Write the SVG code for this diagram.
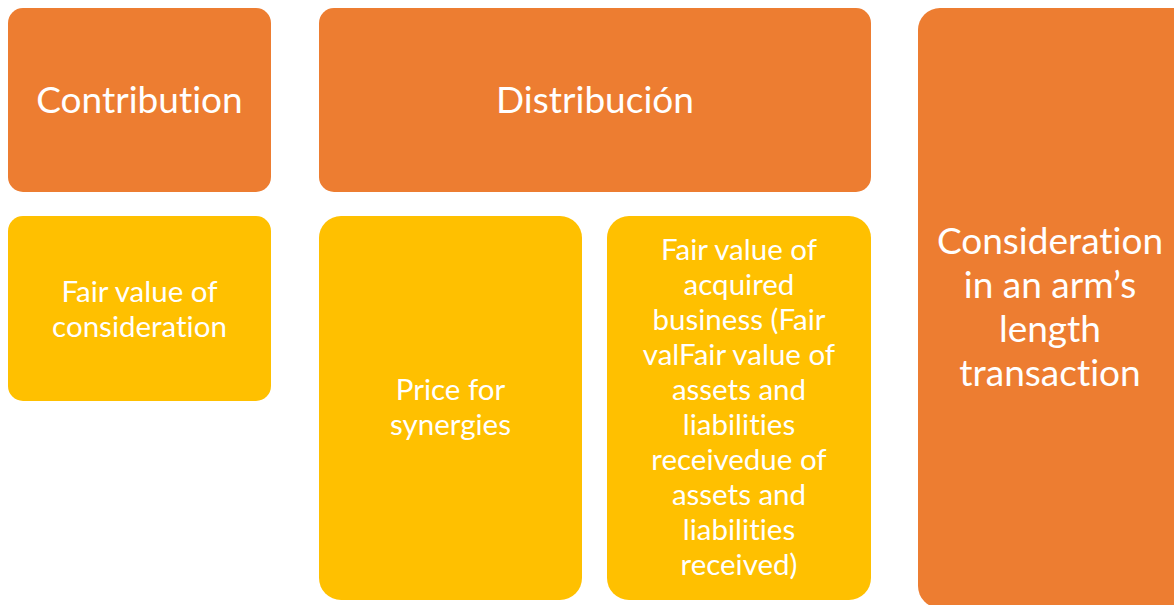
<svg xmlns="http://www.w3.org/2000/svg" width="1174" height="605" viewBox="0 0 1174 605">
<style>
.o{fill:#ED7D31}
.y{fill:#FFC000}
text{fill:#fff;font-family:"Lato","Open Sans","Liberation Sans",sans-serif;text-anchor:middle;font-variant-ligatures:none;font-feature-settings:"liga" 0,"clig" 0,"dlig" 0}
.big{font-size:37px}
.sm{font-size:29.5px}
</style>
<rect width="1174" height="605" fill="#fff"/>
<g id="contribution"><rect class="o" x="8" y="8" width="263" height="184" rx="15"/><text class="big" x="139.5" y="113">Contribution</text></g>
<g id="distribucion"><rect class="o" x="319" y="8" width="552" height="184" rx="15"/><text class="big" x="595" y="113">Distribución</text></g>
<g id="fair-value-consideration"><rect class="y" x="8" y="216" width="263" height="185" rx="15"/><text class="sm" x="139.5" y="302">Fair value of</text><text class="sm" x="139.5" y="337">consideration</text></g>
<g id="price-synergies"><rect class="y" x="319" y="216" width="263" height="384" rx="22"/><text class="sm" x="450.5" y="400">Price for</text><text class="sm" x="450.5" y="435">synergies</text></g>
<g id="fair-value-acquired"><rect class="y" x="607" y="216" width="264" height="384" rx="22"/>
<text class="sm" x="739" y="260">Fair value of</text>
<text class="sm" x="739" y="295">acquired</text>
<text class="sm" x="739" y="330">business (Fair</text>
<text class="sm" x="739" y="365">valFair value of</text>
<text class="sm" x="739" y="400">assets and</text>
<text class="sm" x="739" y="435">liabilities</text>
<text class="sm" x="739" y="470">receivedue of</text>
<text class="sm" x="739" y="505">assets and</text>
<text class="sm" x="739" y="540">liabilities</text>
<text class="sm" x="739" y="575">received)</text></g>
<g id="consideration"><rect class="o" x="918" y="8" width="280" height="600" rx="22"/>
<text class="big" x="1050" y="254">Consideration</text>
<text class="big" x="1050" y="298">in an arm’s</text>
<text class="big" x="1050" y="342">length</text>
<text class="big" x="1050" y="386">transaction</text></g>
<g id="connectors"/>
</svg>
